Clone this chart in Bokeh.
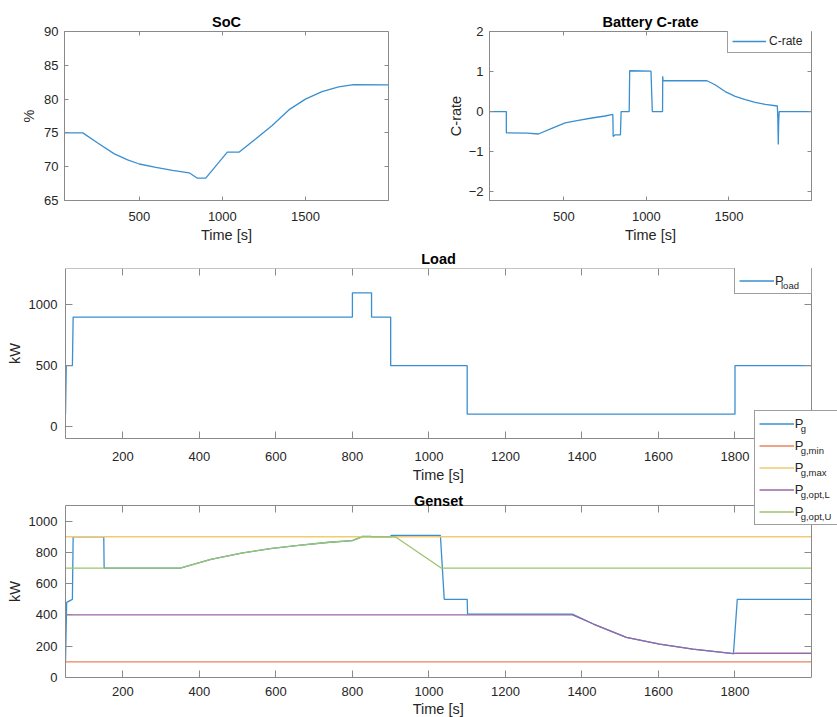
from bokeh.plotting import figure
from bokeh.layouts import column, row
from bokeh.models import (Range1d, LinearAxis, FixedTicker, Legend, LegendItem,
                          Label, Title, CustomJSTickFormatter)
from bokeh.embed import file_html
from bokeh.resources import INLINE

# ---------------- data ----------------
soc_time = [50, 160, 250, 350, 430, 500, 600, 700, 800, 850, 900, 1030, 1100,
            1200, 1300, 1400, 1500, 1600, 1700, 1790, 2000]
soc_pct = [75.0, 75.0, 73.5, 71.9, 71.0, 70.4, 69.9, 69.45, 69.1, 68.3, 68.3,
           72.15, 72.15, 74.1, 76.1, 78.4, 80.0, 81.1, 81.8, 82.15, 82.1]

crate_time = [50, 152, 152, 280, 346, 427, 508, 588, 670, 750, 797, 799, 811,
              843, 847, 896, 899, 1028, 1036, 1098, 1099, 1101, 1367, 1416,
              1477, 1538, 1599, 1659, 1720, 1793, 1796, 1799, 1801, 1804, 2000]
crate = [0, 0, -0.53, -0.54, -0.56, -0.42, -0.28, -0.22, -0.16, -0.11, -0.07,
         -0.62, -0.58, -0.58, 0, 0, 1.02, 1.01, 0, 0, 0.88, 0.77, 0.77, 0.67,
         0.5, 0.38, 0.3, 0.23, 0.18, 0.14, -0.15, -0.82, -0.3, 0, 0]

load_time = [50, 52, 68, 70, 800, 800, 850, 850, 900, 900, 1100, 1100,
             1800, 1800, 2000]
load_kw = [100, 500, 500, 900, 900, 1100, 1100, 900, 900, 500, 500, 100,
           100, 500, 500]

pg_time = [50, 53, 68, 70, 150, 151, 350, 430, 510, 590, 665, 740, 800, 826,
           848, 850, 900, 901, 1030, 1040, 1100, 1101, 1375, 1430, 1516, 1603,
           1690, 1796, 1806, 2000]
pg_kw = [100, 480, 500, 900, 900, 700, 700, 755, 796, 826, 847, 865, 875, 903,
         903, 900, 900, 908, 908, 500, 500, 405, 405, 342, 256, 213, 181, 153,
         500, 500]

pmin_time = [50, 2000]
pmin_kw = [100, 100]
pmax_time = [50, 2000]
pmax_kw = [900, 900]

popt_l_time = [50, 1375, 1430, 1516, 1603, 1690, 1796, 1800, 2000]
popt_l_kw = [400, 400, 342, 256, 213, 181, 153, 155, 155]

popt_u_time = [50, 350, 430, 510, 590, 665, 740, 800, 826, 912, 1032, 2000]
popt_u_kw = [700, 700, 755, 796, 826, 847, 865, 875, 900, 900, 700, 700]

time_span = (50, 2000)
top_xticks = [500, 1000, 1500]
bottom_xticks = [200, 400, 600, 800, 1000, 1200, 1400, 1600, 1800]
soc_yticks = [65, 70, 75, 80, 85, 90]
crate_yticks = [-2, -1, 0, 1, 2]
load_span = (-100, 1300)
load_yticks = [0, 500, 1000]
gen_span = (0, 1100)
gen_yticks = [0, 200, 400, 600, 800, 1000]

load_subscripts = ["load"]
gen_subscripts = ["g", "g,min", "g,max", "g,opt,L", "g,opt,U"]

# ---------------- style ----------------
FONT = "Liberation Sans"
AXIS = "#8a8a8a"
INK = "#262626"
BLUE = "#3a8fd0"
ORANGE = "#e8845c"
YELLOW = "#f0cb72"
PURPLE = "#9868a6"
GREEN = "#9cc46c"
LW = 1.3

# page geometry of the two wide panels (pixels)
BOX_LEFT, BOX_RIGHT, FRAME_RIGHT = 65, 811, 837
wide_x_end = time_span[1] + (FRAME_RIGHT - BOX_RIGHT) * \
    (time_span[1] - time_span[0]) / (BOX_RIGHT - BOX_LEFT)


def style_axis(ax, tick_len, standoff, label_standoff):
    ax.major_tick_in = tick_len
    ax.major_tick_out = 0
    ax.minor_tick_in = 0
    ax.minor_tick_out = 0
    ax.minor_tick_line_color = None
    ax.axis_line_color = AXIS
    ax.major_tick_line_color = AXIS
    ax.major_label_text_color = INK
    ax.major_label_text_font = FONT
    ax.major_label_text_font_size = "13px"
    ax.major_label_standoff = standoff
    ax.axis_label_text_font = FONT
    ax.axis_label_text_font_size = "14.5px"
    ax.axis_label_text_font_style = "normal"
    ax.axis_label_text_color = INK
    ax.axis_label_standoff = label_standoff


def side_title(text, offset, standoff):
    return Title(text=text, align="left", offset=offset, standoff=standoff,
                 text_font=FONT, text_font_size="14.5px",
                 text_font_style="normal", text_color=INK)


def make_panel(title, width, height, xr, yr, xticks, yticks, ylabel, borders,
               tick_len, ytick_standoff, ylabel_standoff, xtick_standoff,
               box=None):
    """Axes with a MATLAB-like box; `box` = (x_end, y_end) of the drawn box
    when the plotting frame is larger than the box."""
    left, right, top, bottom = borders
    p = figure(width=width, height=height,
               x_range=Range1d(*xr), y_range=Range1d(*yr),
               output_backend="svg", toolbar_location=None, min_border=0,
               min_border_left=left, min_border_right=right,
               min_border_top=top, min_border_bottom=bottom,
               title=title)
    p.title.align = "center"
    p.title.text_font = FONT
    p.title.text_font_size = "14.5px"
    p.title.text_font_style = "bold"
    p.title.text_color = "#000000"
    p.title.standoff = 4
    p.xgrid.visible = False
    p.ygrid.visible = False

    x_end = xr[1] if box is None else box[0]
    y_end = yr[1] if box is None else box[1]

    xa = p.below[0]
    ya = p.left[0]
    xa.ticker = FixedTicker(ticks=xticks)
    ya.ticker = FixedTicker(ticks=yticks)
    xa.axis_label = "Time [s]"
    ya.axis_label = ylabel
    style_axis(xa, tick_len, xtick_standoff, 3)
    style_axis(ya, tick_len, ytick_standoff, ylabel_standoff)

    # box edges with ticks on the top and right
    blank = CustomJSTickFormatter(code="return ''")
    top_ax = LinearAxis(ticker=FixedTicker(ticks=xticks), formatter=blank,
                        fixed_location=y_end)
    right_ax = LinearAxis(ticker=FixedTicker(ticks=yticks), formatter=blank,
                          fixed_location=x_end)
    for ax in (top_ax, right_ax):
        style_axis(ax, tick_len, 0, 0)
    if box is None:
        p.outline_line_color = AXIS
        top_ax.axis_line_color = None
        right_ax.axis_line_color = None
    else:
        p.outline_line_color = None
        xa.bounds = (xr[0], x_end)
        top_ax.bounds = (xr[0], x_end)
        ya.bounds = (yr[0], y_end)
        right_ax.bounds = (yr[0], y_end)
    p.add_layout(top_ax, "above")
    p.add_layout(right_ax, "right")
    return p


def legend_box(items, location, padding, glyph_w, item_h, spacing,
               label_w, font_size, standoff):
    return Legend(items=items, location=location, padding=padding,
                  spacing=spacing, margin=0, glyph_width=glyph_w,
                  glyph_height=item_h, label_height=item_h,
                  label_width=label_w, label_standoff=standoff,
                  label_text_font=FONT, label_text_font_size=font_size,
                  label_text_color=INK, border_line_color="#3c3c3c",
                  border_line_width=1, background_fill_color="white",
                  background_fill_alpha=1.0)


def subscript_legend(p, texts, location, padding, glyph_w, item_h, spacing):
    """A frameless legend laid over a "P" legend that writes the subscripts,
    row for row, just after each P."""
    keys = [p.line(x=[], y=[], line_alpha=0) for _ in texts]
    return Legend(items=[LegendItem(label=t, renderers=[k])
                         for t, k in zip(texts, keys)],
                  location=location, padding=padding, spacing=spacing,
                  margin=0, glyph_width=glyph_w, glyph_height=item_h,
                  label_height=item_h, label_width=20, label_standoff=2,
                  label_text_font=FONT, label_text_font_size="9.5px",
                  label_text_color=INK, label_text_baseline="alphabetic",
                  border_line_color=None, background_fill_alpha=0.0)


# ---------------- SoC ----------------
p_soc = make_panel("SoC", 420, 245, time_span, (65, 90), top_xticks,
                   soc_yticks, "%", (64, 32, 31, 44), 4, 6, 4, 11)
p_soc.line(soc_time, soc_pct, line_color=BLUE, line_width=LW)

# ---------------- Battery C-rate ----------------
p_c = make_panel("Battery C-rate", 417, 245, time_span, (-2.22, 2),
                 top_xticks, crate_yticks, "C-rate", (69, 26, 31, 44),
                 4, 6, 2, 11)
r_c = p_c.line(crate_time, crate, line_color=BLUE, line_width=LW)
p_c.add_layout(legend_box([LegendItem(label="C-rate", renderers=[r_c])],
                          (238, 147.5), 4, 34, 14, 0, 39, "12px", 3))

# ---------------- Load ----------------
# the frame runs to the right page edge; the box stops at t = 2000
p_load = make_panel("Load", 837, 245, (time_span[0], wide_x_end), load_span,
                    bottom_xticks, load_yticks, "kW", (BOX_LEFT, 0, 23, 52),
                    7, 8, 3, 13, box=(time_span[1], load_span[1]))
p_load.border_fill_color = None
p_load.background_fill_color = None
# keep the title and x label centred on the box rather than the frame
p_load.title.align = "left"
p_load.title.offset = 355.7
p_load.below[0].axis_label = None
p_load.add_layout(side_title("Time [s]", 347.2, 2), "below")

r_load = p_load.line(load_time, load_kw, line_color=BLUE, line_width=LW)
p_load.add_layout(legend_box([LegendItem(label="P", renderers=[r_load])],
                             (669, 144), 4, 35, 17, 0, 32, "13px", 1))
p_load.add_layout(subscript_legend(p_load, load_subscripts, (669, 144),
                                   4, 45, 17, 0))

# ---------------- Genset ----------------
# The plotting frame also reaches up past the box top so that the legend,
# which sits partly outside the box, is not clipped.
gen_canvas_top = 409          # page y where this figure starts
gen_frame_bottom = 677        # page y of the x axis
gen_box_top = 505             # page y of the box top
gen_height = 717 - gen_canvas_top
gen_y_end = gen_span[1] * (gen_frame_bottom - gen_canvas_top) / \
    (gen_frame_bottom - gen_box_top)

p_gen = make_panel("", 837, gen_height, (time_span[0], wide_x_end),
                   (0, gen_y_end), bottom_xticks, gen_yticks, "kW",
                   (BOX_LEFT, 0, 0, 717 - gen_frame_bottom), 7, 8, 3, 9,
                   box=(time_span[1], gen_span[1]))
p_gen.border_fill_color = None
p_gen.background_fill_color = None
p_gen.margin = (gen_canvas_top - 490, 0, 0, 0)
p_gen.below[0].axis_label = None
p_gen.add_layout(side_title("Time [s]", 347.2, 0), "below")
p_gen.left[0].axis_label = None
p_gen.add_layout(side_title("kW", 75.5, 6), "left")

r_pg = p_gen.line(pg_time, pg_kw, line_color=BLUE, line_width=LW)
r_min = p_gen.line(pmin_time, pmin_kw, line_color=ORANGE, line_width=LW)
r_max = p_gen.line(pmax_time, pmax_kw, line_color=YELLOW, line_width=LW)
r_optl = p_gen.line(popt_l_time, popt_l_kw, line_color=PURPLE, line_width=LW)
r_optu = p_gen.line(popt_u_time, popt_u_kw, line_color=GREEN, line_width=LW)

p_gen.add_layout(Label(x=(BOX_RIGHT - BOX_LEFT) / 2, y=177,
                       x_units="screen", y_units="screen", text="Genset",
                       text_font=FONT, text_font_size="14.5px",
                       text_font_style="bold", text_color="#000000",
                       text_align="center", text_baseline="alphabetic"))

gen_items = [LegendItem(label="P", renderers=[r]) for r in
             (r_pg, r_min, r_max, r_optl, r_optu)]
p_gen.add_layout(legend_box(gen_items, (688.7, 152.3), 4, 35, 17, 5, 60,
                            "13px", 1))
p_gen.add_layout(subscript_legend(p_gen, gen_subscripts, (688.7, 152.3),
                                  4, 45, 17, 5))

layout = column(row(p_soc, p_c), p_load, p_gen)

open("out.html", "w").write(file_html(layout, INLINE))
